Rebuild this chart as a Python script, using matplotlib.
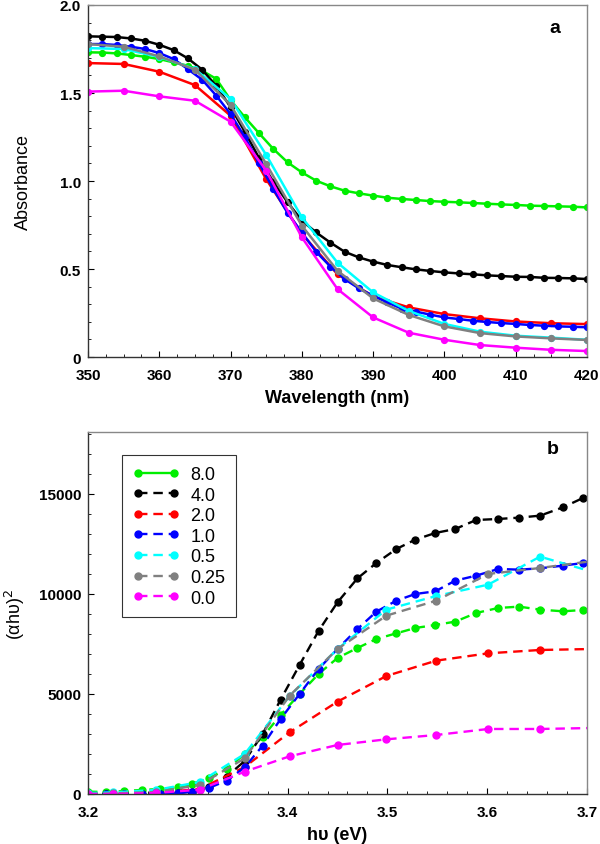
import matplotlib
matplotlib.use("Agg")
import matplotlib.pyplot as plt
from matplotlib.lines import Line2D
from matplotlib.ticker import MultipleLocator

plt.rcParams['font.family'] = ['Liberation Sans', 'DejaVu Sans']

# ---------------- Panel a data ----------------
wl_2nm = list(range(350, 421, 2))
wl_5nm = list(range(350, 421, 5))

abs_8 = [1.731, 1.730, 1.725, 1.716, 1.706, 1.693, 1.674, 1.655, 1.627, 1.580,
         1.460, 1.362, 1.271, 1.182, 1.106, 1.049, 1.002, 0.970, 0.945, 0.930,
         0.917, 0.905, 0.898, 0.892, 0.886, 0.882, 0.879, 0.875, 0.871, 0.867,
         0.864, 0.860, 0.858, 0.856, 0.854, 0.850]
abs_4 = [1.822, 1.820, 1.818, 1.810, 1.797, 1.774, 1.744, 1.697, 1.633, 1.540,
         1.420, 1.280, 1.130, 0.995, 0.879, 0.775, 0.708, 0.650, 0.598, 0.566,
         0.542, 0.523, 0.510, 0.498, 0.489, 0.481, 0.475, 0.470, 0.464, 0.460,
         0.456, 0.455, 0.450, 0.449, 0.447, 0.443]
abs_1 = [1.778, 1.778, 1.773, 1.763, 1.750, 1.727, 1.693, 1.636, 1.576, 1.485,
         1.380, 1.250, 1.100, 0.955, 0.818, 0.708, 0.598, 0.514, 0.443, 0.390,
         0.348, 0.310, 0.275, 0.258, 0.241, 0.225, 0.216, 0.206, 0.199, 0.193,
         0.188, 0.182, 0.178, 0.174, 0.172, 0.169]
abs_2 = [1.670, 1.665, 1.621, 1.545, 1.371, 1.010, 0.700, 0.470, 0.345, 0.282,
         0.244, 0.220, 0.202, 0.192, 0.187]
abs_05 = [1.755, 1.750, 1.705, 1.636, 1.466, 1.148, 0.794, 0.536, 0.367, 0.262,
          0.188, 0.144, 0.121, 0.110, 0.098]
abs_025 = [1.778, 1.763, 1.708, 1.633, 1.432, 1.097, 0.746, 0.490, 0.333, 0.239,
           0.174, 0.136, 0.117, 0.106, 0.097]
abs_0 = [1.508, 1.513, 1.481, 1.456, 1.337, 1.059, 0.680, 0.386, 0.225, 0.138,
         0.098, 0.068, 0.053, 0.041, 0.034]

# ---------------- Panel b data ----------------
e_fine = [3.200, 3.218, 3.236, 3.254, 3.272, 3.290, 3.304, 3.321, 3.339, 3.357,
          3.375, 3.393, 3.412, 3.431, 3.450, 3.470, 3.489, 3.509, 3.528, 3.548,
          3.568, 3.589, 3.611, 3.632, 3.653, 3.676, 3.696]
e_coarse = [3.200, 3.225, 3.268, 3.312, 3.357, 3.402, 3.450, 3.499, 3.549,
            3.601, 3.653, 3.706]

tauc_8 = [117, 100, 150, 200, 250, 333, 500, 783, 1250, 2000, 2850, 3950, 5000,
          6000, 6800, 7300, 7750, 8033, 8300, 8450, 8617, 9050, 9300, 9367,
          9217, 9133, 9200]
tauc_4 = [0, 0, 0, 0, 20, 50, 120, 350, 870, 1650, 3000, 4717, 6450, 8150, 9583,
          10783, 11550, 12250, 12717, 13050, 13250, 13700, 13750, 13817, 13917,
          14333, 14800]
tauc_1 = [0, 0, 0, 0, 10, 30, 117, 300, 667, 1333, 2417, 3750, 5000, 6250, 7250,
          8250, 9117, 9667, 10000, 10133, 10667, 10917, 11250, 11217, 11283,
          11417, 11550]
tauc_2 = [0, 20, 60, 250, 1350, 3083, 4617, 5900, 6667, 7033, 7200, 7250]
tauc_05 = [50, 80, 200, 600, 2000, 4900, 7250, 9217, 9900, 10467, 11867, 11100]
tauc_025 = [0, 30, 100, 450, 1783, 4917, 7250, 8917, 9667, 11000, 11300, 11650]
tauc_0 = [0, 0, 50, 217, 1117, 1883, 2450, 2733, 2950, 3250, 3250, 3300]

labels = ['8.0', '4.0', '2.0', '1.0', '0.5', '0.25', '0.0']
colors = ['#00ee00', '#000000', '#ff0000', '#0000ff', '#00ffff', '#808080', '#ff00ff']

fig = plt.figure(figsize=(6, 8.45), dpi=100)
ax1 = fig.add_axes([0.1467, 0.5763, 0.8316, 0.4166])
ax2 = fig.add_axes([0.1467, 0.0592, 0.8316, 0.4284])

# Panel a
series_a = [(wl_2nm, abs_8, colors[0]), (wl_2nm, abs_4, colors[1]),
            (wl_5nm, abs_2, colors[2]), (wl_2nm, abs_1, colors[3]),
            (wl_5nm, abs_05, colors[4]), (wl_5nm, abs_025, colors[5]),
            (wl_5nm, abs_0, colors[6])]
for x, y, c in series_a:
    ax1.plot(x, y, '-', color=c, lw=1.8, marker='o', ms=4.2, mec=c, mfc=c)

ax1.set_xlim(350, 420)
ax1.set_ylim(0, 2.0)
ax1.set_xticks(range(350, 421, 10))
ax1.set_yticks([0, 0.5, 1.0, 1.5, 2.0])
ax1.set_yticklabels(['0', '0.5', '1.0', '1.5', '2.0'])
ax1.xaxis.set_minor_locator(MultipleLocator(2.5))
ax1.yaxis.set_minor_locator(MultipleLocator(0.1))
ax1.set_xlabel('Wavelength (nm)', fontsize=13, fontweight='bold', labelpad=5)
ax1.set_ylabel('Absorbance', fontsize=13, labelpad=20)
ax1.text(0.936, 0.937, 'a', transform=ax1.transAxes, fontsize=14,
         fontweight='bold', ha='center', va='center')

# Panel b
dash = (0, (4, 2.5))
series_b = [(e_fine, tauc_8, colors[0]), (e_fine, tauc_4, colors[1]),
            (e_coarse, tauc_2, colors[2]), (e_fine, tauc_1, colors[3]),
            (e_coarse, tauc_05, colors[4]), (e_coarse, tauc_025, colors[5]),
            (e_coarse, tauc_0, colors[6])]
for x, y, c in series_b:
    ax2.plot(x, y, linestyle=dash, color=c, lw=1.7, marker='o', ms=5,
             mec=c, mfc=c)

ax2.set_xlim(3.2, 3.7)
ax2.set_ylim(0, 18100)
ax2.set_xticks([3.2, 3.3, 3.4, 3.5, 3.6, 3.7])
ax2.set_yticks([0, 5000, 10000, 15000])
ax2.xaxis.set_minor_locator(MultipleLocator(0.02))
ax2.yaxis.set_minor_locator(MultipleLocator(1000))
ax2.set_xlabel('h\u03c5 (eV)', fontsize=13, fontweight='bold', labelpad=5)
ax2.set_ylabel('(\u03b1h\u03c5)$^2$', fontsize=13, labelpad=8)
ax2.text(0.932, 0.953, 'b', transform=ax2.transAxes, fontsize=14,
         fontweight='bold', ha='center', va='center')

handles = []
for lab, c in zip(labels, colors):
    ls = '-' if lab == '8.0' else (0, (4, 2.5))
    handles.append(Line2D([0], [0], color=c, lw=1.7, linestyle=ls, marker='o',
                          ms=5, mec=c, mfc=c))
leg = ax2.legend(handles, labels, loc='upper left', bbox_to_anchor=(0.068, 0.936),
                 borderaxespad=0, fontsize=13, numpoints=2, handlelength=2.6,
                 handletextpad=0.6, labelspacing=0.2, fancybox=False,
                 frameon=True, borderpad=0.6)
leg.get_frame().set_edgecolor('#000000')
leg.get_frame().set_linewidth(0.8)

for ax in (ax1, ax2):
    ax.tick_params(which='both', direction='in', top=False, right=False)
    ax.tick_params(which='major', length=4, labelsize=11)
    ax.tick_params(which='minor', length=2.5)
    ax.tick_params(axis='x', which='major', pad=8)
    ax.tick_params(axis='y', which='major', pad=5)
    for lab in ax.get_xticklabels() + ax.get_yticklabels():
        lab.set_fontweight('bold')
    ax.spines['left'].set_color('#333333')
    ax.spines['bottom'].set_color('#333333')
    ax.spines['top'].set_color('#888888')
    ax.spines['right'].set_color('#888888')
    for s in ax.spines.values():
        s.set_linewidth(1.0)

fig.savefig('out.png', dpi=100)
